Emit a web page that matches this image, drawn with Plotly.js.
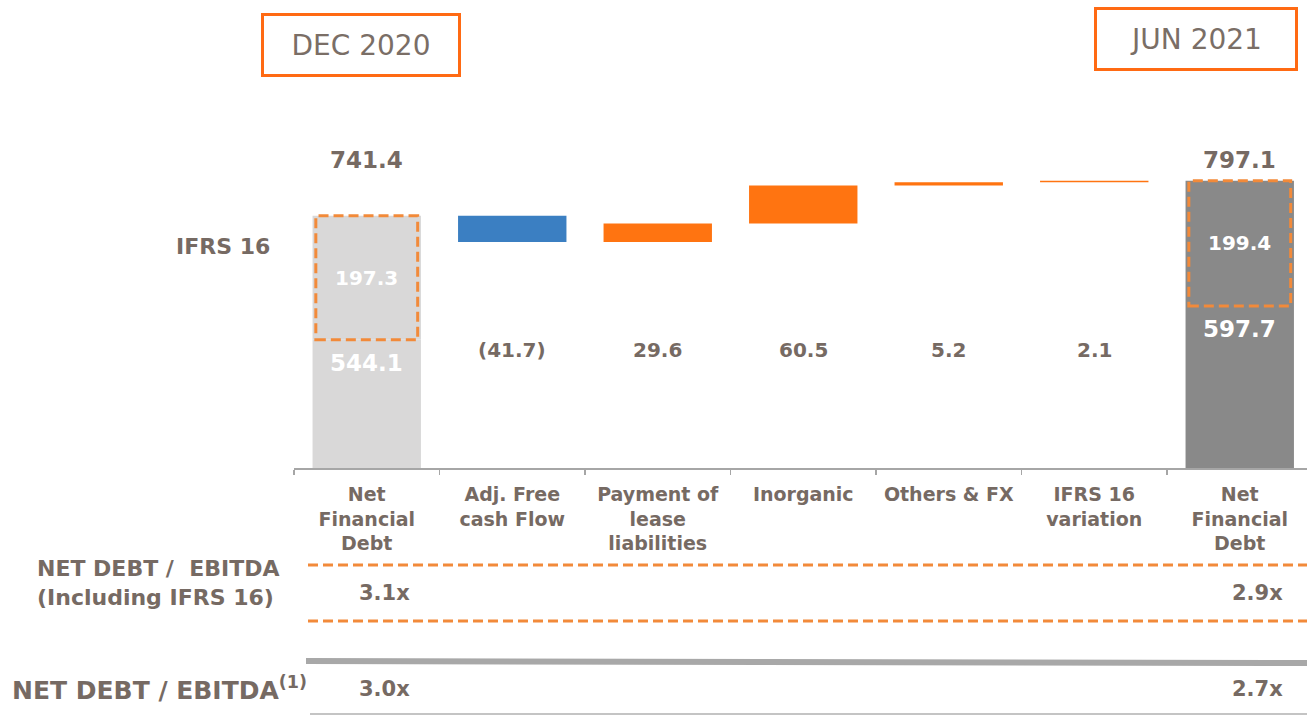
<!DOCTYPE html>
<html>
<head>
<meta charset="utf-8">
<script src="https://cdn.plot.ly/plotly-3.0.1.min.js"></script>
<style>
  html, body { margin: 0; padding: 0; background: #ffffff; }
  #chart { width: 1307px; height: 715px; }
</style>
</head>
<body>
<div id="chart"></div>
<script>
// ---------------- DATA ----------------
const categories = ["Net<br>Financial<br>Debt", "Adj. Free<br>cash Flow", "Payment of<br>lease<br>liabilities",
                    "Inorganic", "Others & FX", "IFRS 16<br>variation", "Net<br>Financial<br>Debt"];
const periods = ["DEC 2020", "JUN 2021"];
const netFinancialDebt = [544.1, 597.7];   // excl. IFRS 16
const ifrs16 = [197.3, 199.4];             // IFRS 16 component
const steps = [-41.7, 29.6, 60.5, 5.2, 2.1]; // bridge movements
const ratioInclIFRS = ["3.1x", "2.9x"];
const ratioExclIFRS = ["3.0x", "2.7x"];

// ---------------- STYLE ----------------
const TXT = "#766a63";
const FONT = "DejaVu Sans";
const LIGHT = "#d9d8d8", DARK = "#898989", BLUE = "#3b7fc2", ORANGE = "#ff7411", DASHOR = "#f28a3a";

const L = 294, T = 100, PB = 468, H = 368, W = 1013, STEP = 145.5;
const px = v => (v - L) / W;
const py = v => (PB - v) / H;

const totalX = [0, categories.length - 1];
const totals = netFinancialDebt.map((v, i) => +(v + ifrs16[i]).toFixed(1));

// bridge bars
const stepX = [], stepBase = [], stepH = [], stepC = [];
let cum = totals[0];
steps.forEach((s, i) => {
  const after = cum + s;
  stepX.push(i + 1);
  stepBase.push(Math.min(cum, after));
  stepH.push(Math.abs(s));
  stepC.push(s < 0 ? BLUE : ORANGE);
  cum = after;
});

const BW = 0.745;
const traces = [
  { type: "bar", x: totalX, y: netFinancialDebt, base: [0, 0], width: BW,
    marker: { color: [LIGHT, DARK], line: { width: 0 } }, hoverinfo: "skip" },
  { type: "bar", x: totalX, y: ifrs16, base: netFinancialDebt, width: BW,
    marker: { color: [LIGHT, DARK], line: { width: 0 } }, hoverinfo: "skip" },
  { type: "bar", x: stepX, y: stepH, base: stepBase, width: BW,
    marker: { color: stepC, line: { width: 0 } }, hoverinfo: "skip" }
];

const shapes = [];
totalX.forEach((x, i) => {
  shapes.push({ type: "rect", xref: "x", yref: "y", x0: x - 0.35, x1: x + 0.35,
    y0: netFinancialDebt[i], y1: totals[i], line: { color: DASHOR, width: 3, dash: "10px,5px" } });
});
// ratio table lines
[565, 621].forEach(yy => shapes.push({ type: "line", xref: "paper", yref: "paper",
  x0: px(308), x1: px(1307), y0: py(yy), y1: py(yy), line: { color: DASHOR, width: 3, dash: "10px,5px" } }));
shapes.push({ type: "line", xref: "paper", yref: "paper", x0: px(306), x1: px(1307), y0: py(661), y1: py(663),
  line: { color: "#a8a8a8", width: 6 } });
shapes.push({ type: "line", xref: "paper", yref: "paper", x0: px(310), x1: px(1307), y0: py(714), y1: py(714),
  line: { color: "#b0b0b0", width: 1.5 } });

const annotations = [];
const f = (size, color, weight) => ({ family: FONT, size: size, color: color || TXT, weight: weight || "bold" });
const ann = o => annotations.push(Object.assign({ showarrow: false, xanchor: "center", yanchor: "middle" }, o));

// period boxes
ann({ xref: "paper", yref: "paper", x: px(361), y: py(45), text: periods[0],
  font: { family: FONT, size: 28, color: "#7a6e66" }, bordercolor: "#ff6a13", borderwidth: 3, borderpad: 2,
  width: 190, height: 54 });
ann({ xref: "paper", yref: "paper", x: px(1196), y: py(39), text: periods[1],
  font: { family: FONT, size: 28, color: "#7a6e66" }, bordercolor: "#ff6a13", borderwidth: 3, borderpad: 2,
  width: 194, height: 54 });

// totals above and segment labels
totalX.forEach((x, i) => {
  ann({ xref: "x", yref: "paper", x: x, y: py(160), text: totals[i].toFixed(1), font: f(23) });
  ann({ xref: "x", yref: "y", x: x, y: netFinancialDebt[i] + ifrs16[i] / 2, text: ifrs16[i].toFixed(1),
    font: f(20, "#ffffff") });
  ann({ xref: "x", yref: "y", x: x, y: netFinancialDebt[i], yanchor: "top", yshift: -8,
    text: netFinancialDebt[i].toFixed(1), font: f(23, "#ffffff") });
});
// step labels
steps.forEach((s, i) => {
  ann({ xref: "x", yref: "paper", x: stepX[i], y: py(350),
    text: s < 0 ? "(" + Math.abs(s).toFixed(1) + ")" : s.toFixed(1), font: f(20) });
});
// left labels
ann({ xref: "paper", yref: "paper", x: px(272), xanchor: "right", y: py(246), text: "IFRS 16", font: f(22) });
ann({ xref: "paper", yref: "paper", x: px(35), xanchor: "left", y: py(583),
  text: "NET DEBT /  EBITDA<br>(Including IFRS 16)", align: "left", font: f(22) });
ann({ xref: "paper", yref: "paper", x: px(10), xanchor: "left", y: py(688),
  text: "NET DEBT / EBITDA<sup>(1)</sup>", font: f(25) });
// ratios
totalX.forEach((x, i) => {
  ann({ xref: "x", yref: "paper", x: x + 0.12, y: py(593), text: ratioInclIFRS[i], font: f(21) });
  ann({ xref: "x", yref: "paper", x: x + 0.12, y: py(689), text: ratioExclIFRS[i], font: f(21) });
});

const yMin = 340.1, yScale = 0.6284;
const layout = {
  width: 1307, height: 715,
  margin: { l: L, r: 0, t: T, b: 715 - PB, pad: 0 },
  paper_bgcolor: "#ffffff", plot_bgcolor: "#ffffff",
  showlegend: false, barmode: "overlay",
  xaxis: {
    range: [-0.5, -0.5 + W / STEP], tickvals: categories.map((c, i) => i), ticktext: categories,
    showgrid: false, zeroline: false, showline: true, linecolor: "#a6a6a6", linewidth: 2,
    ticks: "", tickfont: f(19), ticklabelstandoff: 8, fixedrange: true,
    minor: { tickvals: categories.map((c, i) => i - 0.5).concat([categories.length - 0.5]),
             ticks: "outside", ticklen: 5, tickcolor: "#a6a6a6", tickwidth: 1.5, showgrid: false }
  },
  yaxis: { range: [yMin, yMin + H / yScale], visible: false, fixedrange: true },
  shapes: shapes, annotations: annotations
};

Plotly.newPlot("chart", traces, layout, { displayModeBar: false, staticPlot: true });
</script>
</body>
</html>
